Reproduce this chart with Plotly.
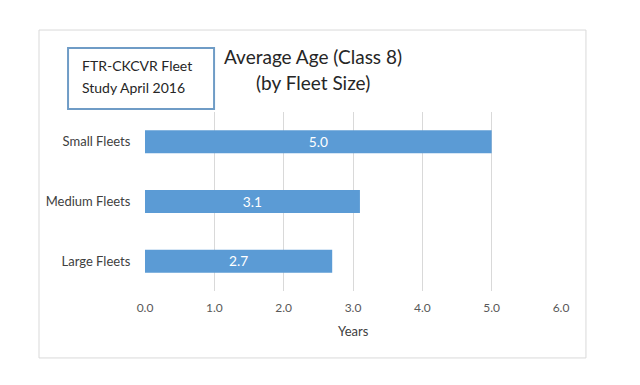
import plotly.graph_objects as go

categories = ["Small Fleets", "Medium Fleets", "Large Fleets"]
avg_age = [5.0, 3.1, 2.7]
x_ticks = [0, 1, 2, 3, 4, 5, 6]
x_tick_labels = ["0.0", "1.0", "2.0", "3.0", "4.0", "5.0", "6.0"]

FONT = "Lato"
fig = go.Figure(go.Bar(
    y=categories, x=avg_age, orientation="h",
    marker=dict(color="#5b9bd5", line=dict(width=0)),
    text=[f"{v:.1f}" for v in avg_age], textposition="inside",
    insidetextanchor="middle",
    textfont=dict(color="white", size=17, family=FONT),
    cliponaxis=False,
))

fig.update_layout(
    width=632, height=377,
    margin=dict(l=137, r=79, t=104, b=94),
    paper_bgcolor="white", plot_bgcolor="white",
    bargap=0.615, showlegend=False,
    font=dict(family=FONT, color="#404040"),
    xaxis=dict(range=[0, 6], tickvals=x_ticks, ticktext=x_tick_labels,
               showgrid=True, gridcolor="#d9d9d9", gridwidth=1,
               zeroline=False, showline=False,
               ticks="outside", ticklen=6, tickcolor="rgba(0,0,0,0)",
               tickfont=dict(size=12, color="#595959")),
    yaxis=dict(autorange="reversed", showgrid=False, zeroline=False, showline=False,
               ticks="outside", ticklen=11, tickcolor="rgba(0,0,0,0)",
               tickfont=dict(size=13, color="#404040")),
    shapes=[
        dict(type="rect", xref="paper", yref="paper",
             x0=-0.2548, x1=1.060, y0=-0.374, y1=1.458,
             line=dict(color="#d9d9d9", width=1), layer="below"),
        dict(type="rect", xref="paper", yref="paper",
             x0=-0.185, x1=0.166, y0=1.017, y1=1.358,
             line=dict(color="#6f9cc6", width=2), fillcolor="white"),
    ],
    annotations=[
        dict(text="FTR-CKCVR Fleet", xref="paper", yref="paper", x=-0.156, y=(291-65)/179,
             xanchor="left", yanchor="middle", showarrow=False,
             font=dict(size=14, color="#262626")),
        dict(text="Study April 2016", xref="paper", yref="paper", x=-0.156, y=(291-87)/179,
             xanchor="left", yanchor="middle", showarrow=False,
             font=dict(size=14, color="#262626")),
        dict(text="Average Age (Class 8)", xref="paper", yref="paper", x=0.404, y=(291-56)/179,
             xanchor="center", yanchor="middle", showarrow=False,
             font=dict(size=19, color="#262626")),
        dict(text="(by Fleet Size)", xref="paper", yref="paper", x=0.404, y=(291-82)/179,
             xanchor="center", yanchor="middle", showarrow=False,
             font=dict(size=19, color="#262626")),
        dict(text="Years", xref="paper", yref="paper", x=0.5, y=(291-331)/179,
             xanchor="center", yanchor="middle", showarrow=False,
             font=dict(size=13, color="#404040")),
    ],
)

fig.write_html("out.html")
